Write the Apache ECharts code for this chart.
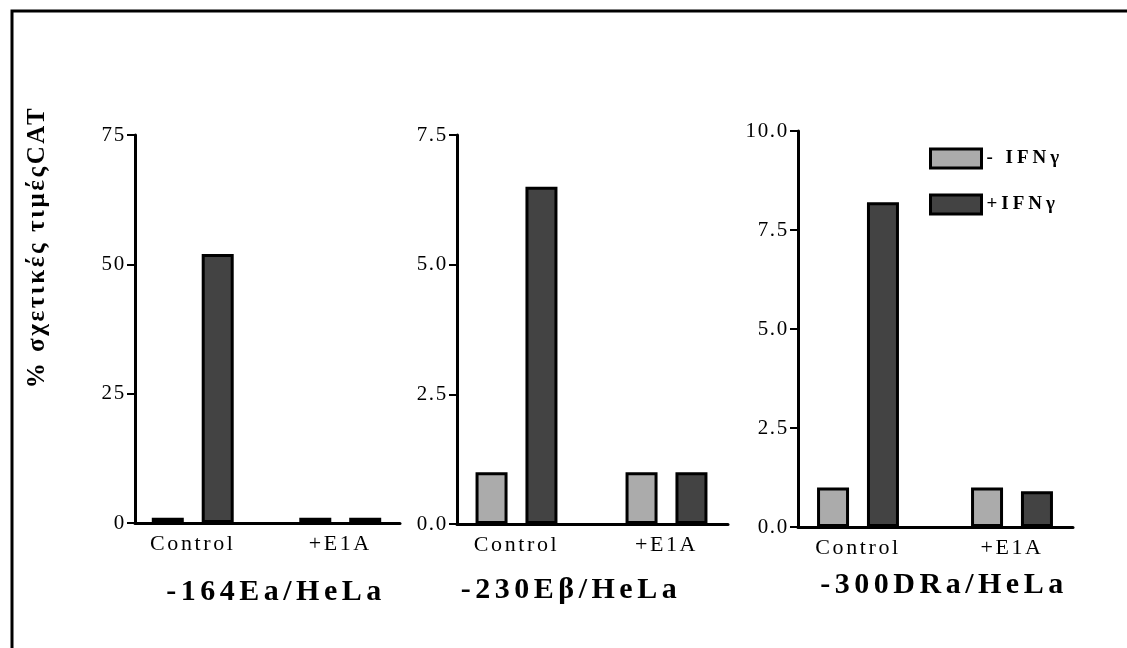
<!DOCTYPE html>
<html>
<head>
<meta charset="utf-8">
<script src="https://cdn.jsdelivr.net/npm/echarts@6/dist/echarts.min.js"></script>
<style>
  html, body { margin: 0; padding: 0; background: #fff; }
  #chart { width: 1127px; height: 648px; }
</style>
</head>
<body>
<div id="chart"></div>
<script>
const categories = ['Control', '+E1A']
const seriesNames = ['- IFNγ', '+IFNγ']

// -164Ea/HeLa
const ea164Minus = [1, 1]
const ea164Plus = [52, 1]
// -230Eβ/HeLa
const eb230Minus = [1, 1]
const eb230Plus = [6.5, 1]
// -300DRa/HeLa
const dra300Minus = [1, 1]
const dra300Plus = [8.2, 0.9]

const panelTitles = ['-164Ea/HeLa', '-230Eβ/HeLa', '-300DRa/HeLa']
const yMax = [75, 7.5, 10]
const yStep = [25, 2.5, 2.5]
const yDecimals = [0, 1, 1]

const serif = 'Liberation Serif'
const light = '#ababab'
const dark = '#434343'

// the scanned figure has widely spaced lettering; canvas letterSpacing per font size (px)
const spacingBySize = {19: 4, 21: 1.7, 22: 2.6, 25: 2.6, 30: 4.5}
function spaced(fn) {
  return function (...args) {
    let m = /(\d+)px/.exec(this.font)
    this.letterSpacing = ((m && spacingBySize[m[1]]) || 0) + 'px'
    return fn.apply(this, args)
  }
}
const ctxProto = CanvasRenderingContext2D.prototype
ctxProto.fillText = spaced(ctxProto.fillText)
ctxProto.measureText = spaced(ctxProto.measureText)

// frame = axis lines, bars = grid the bars live in (a bit wider so groups sit where the original has them)
const panels = [
  {frame: {left: 135, top: 135, width: 265, height: 388}, bars: {left: 119, width: 295}, minus: ea164Minus, plus: ea164Plus},
  {frame: {left: 457, top: 135, width: 271, height: 389}, bars: {left: 441.5, width: 300}, minus: eb230Minus, plus: eb230Plus},
  {frame: {left: 798, top: 131, width: 275, height: 396}, bars: {left: 781, width: 308}, minus: dra300Minus, plus: dra300Plus},
]

let grid = [], xAxis = [], yAxis = [], series = []

panels.forEach((p, i) => {
  let fi = grid.length
  grid.push({left: p.frame.left, top: p.frame.top, width: p.frame.width, height: p.frame.height})
  grid.push({left: p.bars.left, top: p.frame.top, width: p.bars.width, height: p.frame.height})

  xAxis.push({
    type: 'category', gridIndex: fi, data: categories,
    axisLine: {lineStyle: {color: '#000', width: 3}},
    axisTick: {show: false},
    axisLabel: {show: false}
  })
  xAxis.push({
    type: 'category', gridIndex: fi + 1, data: categories,
    axisLine: {show: false},
    axisTick: {show: false},
    axisLabel: {color: '#000', fontFamily: serif, fontSize: 22, margin: 9}
  })
  yAxis.push({
    type: 'value', gridIndex: fi, min: 0, max: yMax[i], interval: yStep[i],
    splitLine: {show: false},
    axisLine: {show: true, lineStyle: {color: '#000', width: 3}},
    axisTick: {show: true, length: 8, lineStyle: {color: '#000', width: 2}},
    axisLabel: {
      color: '#000', fontFamily: serif, fontSize: 21, margin: 9,
      padding: [0, 0, 4, 0],
      formatter: v => v.toFixed(yDecimals[i])
    }
  })
  yAxis.push({
    type: 'value', gridIndex: fi + 1, min: 0, max: yMax[i], interval: yStep[i],
    show: false
  })

  let common = {
    type: 'bar', xAxisIndex: fi + 1, yAxisIndex: fi + 1,
    barWidth: 32, barGap: '56%', silent: true
  }
  series.push({...common, name: seriesNames[0], data: p.minus,
    itemStyle: {color: light, borderColor: '#000', borderWidth: 3}})
  series.push({...common, name: seriesNames[1], data: p.plus,
    itemStyle: {color: dark, borderColor: '#000', borderWidth: 3}})
})

const titlePos = [[276, 592], [571, 590], [944, 585]]

let option = {
  backgroundColor: '#fff',
  animation: false,
  grid, xAxis, yAxis, series,
  legend: {
    data: seriesNames,
    orient: 'vertical',
    left: 929, top: 147, padding: 0,
    icon: 'rect',
    itemWidth: 51, itemHeight: 19,
    itemGap: 23, selectedMode: false,
    itemStyle: {borderColor: '#000', borderWidth: 3},
    textStyle: {color: '#000', fontFamily: serif, fontWeight: 'bold', fontSize: 19}
  },
  graphic: [
    {type: 'rect', shape: {x: 12, y: 11, width: 1200, height: 700}, style: {fill: 'none', stroke: '#000', lineWidth: 3}, silent: true},
    {
      type: 'text', x: 38, y: 247, rotation: Math.PI / 2,
      style: {text: '% σχετικές τιμέςCAT', fill: '#000', fontFamily: serif, fontWeight: 'bold', fontSize: 25, align: 'center', verticalAlign: 'middle'}
    },
    ...panelTitles.map((t, i) => ({
      type: 'text', x: titlePos[i][0], y: titlePos[i][1],
      style: {text: t, fill: '#000', fontFamily: serif, fontWeight: 'bold', fontSize: 30, align: 'center', verticalAlign: 'middle'}
    }))
  ]
}

let chart = echarts.init(document.getElementById('chart'))
chart.setOption(option)
</script>
</body>
</html>
